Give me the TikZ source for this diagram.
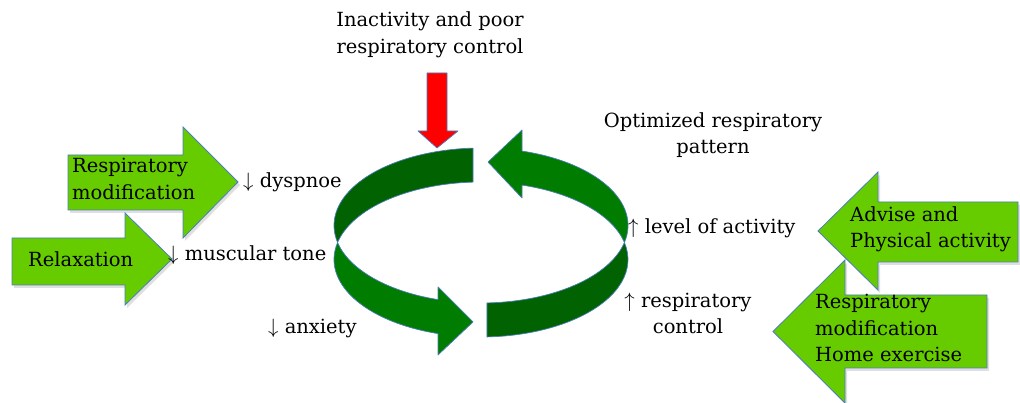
\documentclass[tikz,border=0pt]{standalone}
\usepackage{amsmath}
\usepackage{fontspec}
\setmainfont{DejaVu Serif}
\usepackage{tikz}
\usetikzlibrary{shadows}

\definecolor{rimblue}{RGB}{74,126,187}
\definecolor{lime}{RGB}{102,204,0}
\definecolor{darkband}{RGB}{0,98,0}
\definecolor{lightband}{RGB}{0,124,0}

\begin{document}
\begin{tikzpicture}[
    x=1pt, y=1pt,
    band/.style={
        draw=rimblue,
        line width=0.7pt,
        line join=round
    },
    blockarrow/.style={
        draw=rimblue,
        fill=lime,
        line width=0.8pt,
        drop shadow={opacity=0.25, shadow xshift=2pt, shadow yshift=-3pt}
    },
    label/.style={font=\fontsize{19.5}{26.5}\selectfont, inner sep=0pt}
]

\useasboundingbox (0,0) rectangle (1020,403);

\coordinate (Ea) at (481,177.5);
\coordinate (Eb) at (481,143.5);

\draw[band, fill=darkband] ([shift={(93.1:147 and 77.5)}]Ea)
    arc[start angle=93.1, end angle=192.67, x radius=147, y radius=77.5]
    -- ([shift={(167.33:147 and 77.5)}]Eb)
    arc[start angle=167.33, end angle=93.1, x radius=147, y radius=77.5] -- cycle;
\draw[band, fill=lightband] ([shift={(192.67:147 and 77.5)}]Ea)
    arc[start angle=192.67, end angle=253, x radius=147, y radius=77.5]
    -- (438,116) -- (473,81) -- (438,48)
    -- ([shift={(253:147 and 77.5)}]Eb)
    arc[start angle=253, end angle=167.33, x radius=147, y radius=77.5] -- cycle;
\draw[band, fill=darkband] ([shift={(272.3:147 and 77.5)}]Ea)
    arc[start angle=272.3, end angle=347.33, x radius=147, y radius=77.5]
    -- ([shift={(372.67:147 and 77.5)}]Eb)
    arc[start angle=372.67, end angle=272.3, x radius=147, y radius=77.5] -- cycle;
\draw[band, fill=lightband] ([shift={(-12.67:147 and 77.5)}]Ea)
    arc[start angle=-12.67, end angle=73.8, x radius=147, y radius=77.5]
    -- (522,273) -- (488,241) -- (522,205)
    -- ([shift={(73.8:147 and 77.5)}]Eb)
    arc[start angle=73.8, end angle=12.67, x radius=147, y radius=77.5] -- cycle;

\draw[band, fill=red] (427,330) -- (447,330) -- (447,272) -- (458,272)
    -- (437,255) -- (418,272) -- (427,272) -- cycle;

\draw[blockarrow] (68,248) -- (183,248) -- (183,276) -- (238,221)
    -- (183,165) -- (183,193) -- (68,193) -- cycle;
\draw[blockarrow] (12,165) -- (125,165) -- (125,190) -- (172,144)
    -- (125,98) -- (125,118) -- (12,118) -- cycle;
\draw[blockarrow] (987,108) -- (845,108) -- (845,143) -- (773,71.5)
    -- (845,0) -- (845,35) -- (987,35) -- cycle;
\draw[blockarrow] (1018,201) -- (878,201) -- (878,231) -- (818,172)
    -- (878,113) -- (878,141) -- (1018,141) -- cycle;

\node[label, align=center] (cause) at (430,368) {Inactivity and poor\\respiratory control};
\node[label, align=center] (optimum) at (713,268) {Optimized respiratory\\pattern};

\node[label, align=left, anchor=west] (respmod) at (72,224) {Respiratory\\modification};
\node[label, anchor=west] (relax) at (28,144) {Relaxation};
\node[label, align=left, anchor=west] (advise) at (850,173.5) {Advise and\\Physical activity};
\node[label, align=left, anchor=west] (homeex) at (815,75) {Respiratory\\modification\\Home exercise};

\node[label, anchor=west] (dyspnoe) at (243,221) {$\downarrow$ dyspnoe};
\node[label, anchor=west] (tone) at (168,148) {$\downarrow$ muscular tone};
\node[label, anchor=west] (anxiety) at (268,75) {$\downarrow$ anxiety};
\node[label, anchor=west] (activity) at (628,175) {$\uparrow$ level of activity};
\node[label, align=center] (control) at (688,89.5) {$\uparrow$ respiratory\\control};

\end{tikzpicture}
\end{document}
